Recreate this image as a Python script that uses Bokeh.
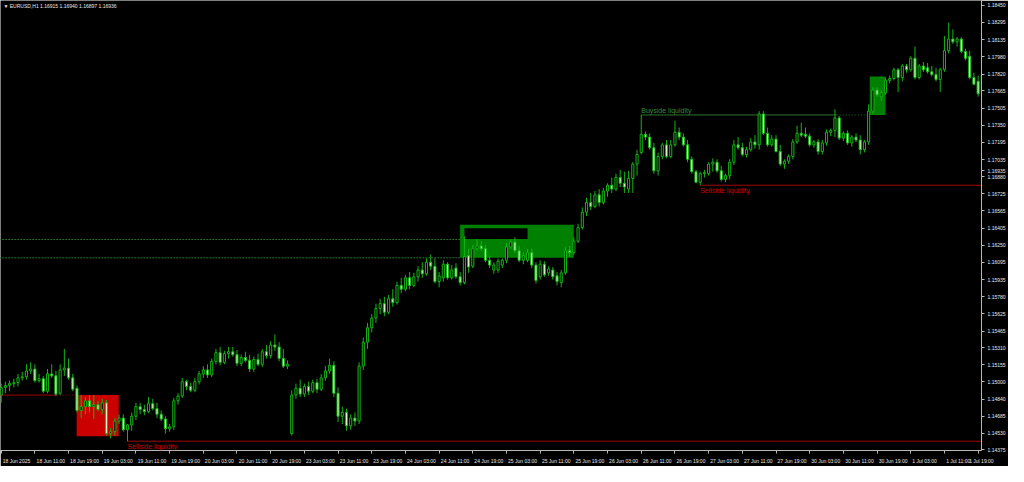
from bokeh.plotting import figure
from bokeh.models import Range1d, FixedTicker, PrintfTickFormatter, Label, ColumnDataSource
from bokeh.embed import file_html
from bokeh.resources import INLINE

# ---------------- data (EURUSD H1, one entry per bar) ----------------
opens = [1.14878, 1.14948, 1.14966, 1.14983, 1.14992, 1.15036, 1.15045, 1.15099, 1.15117, 1.15010,
         1.15028, 1.14913, 1.15072, 1.15054, 1.14895, 1.15108, 1.15125, 1.15036, 1.14940, 1.14737,
         1.14772, 1.14825, 1.14772, 1.14790, 1.14746, 1.14807, 1.14525, 1.14543, 1.14640, 1.14667,
         1.14560, 1.14604, 1.14684, 1.14772, 1.14746, 1.14728, 1.14799, 1.14755, 1.14702, 1.14658,
         1.14569, 1.14587, 1.14825, 1.14869, 1.15001, 1.14957, 1.14922, 1.15001, 1.15072, 1.15108,
         1.15063, 1.15187, 1.15266, 1.15178, 1.15257, 1.15275, 1.15248, 1.15169, 1.15222, 1.15196,
         1.15117, 1.15204, 1.15160, 1.15275, 1.15240, 1.15337, 1.15319, 1.15213, 1.15143, 1.14525,
         1.14878, 1.14940, 1.14887, 1.14957, 1.14913, 1.14992, 1.14931, 1.15036, 1.15099, 1.15151,
         1.14895, 1.14684, 1.14719, 1.14596, 1.14667, 1.14640, 1.15143, 1.15363, 1.15495, 1.15584,
         1.15672, 1.15716, 1.15637, 1.15760, 1.15725, 1.15883, 1.15848, 1.15953, 1.15883, 1.15962,
         1.16024, 1.15989, 1.16095, 1.16059, 1.15918, 1.15953, 1.16077, 1.15953, 1.16042, 1.15962,
         1.15909, 1.16157, 1.16059, 1.16219, 1.16245, 1.16219, 1.16113, 1.16024, 1.16024, 1.16069,
         1.16113, 1.16236, 1.16280, 1.16201, 1.16113, 1.16113, 1.16183, 1.16069, 1.15962, 1.16077,
         1.15998, 1.16024, 1.15971, 1.15909, 1.15998, 1.16201, 1.16183, 1.16289, 1.16413, 1.16554,
         1.16642, 1.16607, 1.16713, 1.16642, 1.16748, 1.16801, 1.16766, 1.16872, 1.16819, 1.16766,
         1.16863, 1.16995, 1.17101, 1.17268, 1.17242, 1.17145, 1.16933, 1.17065, 1.17171, 1.17065,
         1.17171, 1.17286, 1.17242, 1.17171, 1.17039, 1.16925, 1.16828, 1.16907, 1.16907, 1.16995,
         1.17012, 1.16933, 1.16854, 1.16889, 1.17012, 1.17171, 1.17145, 1.17083, 1.17127, 1.17198,
         1.17171, 1.17454, 1.17277, 1.17171, 1.17224, 1.17110, 1.16995, 1.17021, 1.17065, 1.17198,
         1.17277, 1.17268, 1.17251, 1.17171, 1.17198, 1.17110, 1.17189, 1.17286, 1.17304, 1.17418,
         1.17233, 1.17277, 1.17189, 1.17242, 1.17215, 1.17127, 1.17198, 1.17480, 1.17674, 1.17612,
         1.17647, 1.17762, 1.17779, 1.17859, 1.17788, 1.17894, 1.17859, 1.17965, 1.17788, 1.17894,
         1.17877, 1.17841, 1.17815, 1.17771, 1.17859, 1.18035, 1.18141, 1.18115, 1.18141, 1.18027,
         1.17983, 1.17788, 1.17753, 1.17656]

highs = [1.14983, 1.15001, 1.15010, 1.15028, 1.15072, 1.15090, 1.15160, 1.15178, 1.15160, 1.15072,
         1.15054, 1.15117, 1.15160, 1.15099, 1.15160, 1.15301, 1.15213, 1.15072, 1.14966, 1.14878,
         1.14860, 1.14878, 1.14878, 1.14825, 1.14843, 1.14834, 1.14578, 1.14667, 1.14702, 1.14702,
         1.14613, 1.14719, 1.14807, 1.14807, 1.14790, 1.14860, 1.14843, 1.14807, 1.14737, 1.14684,
         1.14613, 1.14852, 1.14895, 1.15036, 1.15019, 1.14992, 1.15036, 1.15099, 1.15143, 1.15160,
         1.15213, 1.15301, 1.15319, 1.15284, 1.15319, 1.15319, 1.15292, 1.15248, 1.15275, 1.15248,
         1.15231, 1.15257, 1.15301, 1.15337, 1.15372, 1.15433, 1.15363, 1.15301, 1.15196, 1.14922,
         1.14983, 1.15019, 1.14983, 1.15001, 1.15019, 1.15028, 1.15072, 1.15143, 1.15213, 1.15187,
         1.14948, 1.14772, 1.14755, 1.14702, 1.14719, 1.15178, 1.15407, 1.15540, 1.15619, 1.15716,
         1.15760, 1.15778, 1.15795, 1.15848, 1.15918, 1.15953, 1.15980, 1.16006, 1.15998, 1.16059,
         1.16095, 1.16130, 1.16166, 1.16130, 1.16006, 1.16113, 1.16095, 1.16069, 1.16086, 1.16006,
         1.16333, 1.16219, 1.16254, 1.16307, 1.16289, 1.16254, 1.16157, 1.16095, 1.16130, 1.16130,
         1.16271, 1.16307, 1.16324, 1.16245, 1.16183, 1.16219, 1.16219, 1.16095, 1.16113, 1.16104,
         1.16059, 1.16051, 1.16006, 1.16024, 1.16236, 1.16245, 1.16324, 1.16448, 1.16598, 1.16686,
         1.16730, 1.16748, 1.16766, 1.16775, 1.16819, 1.16872, 1.16907, 1.16942, 1.16925, 1.16934,
         1.17013, 1.17127, 1.17445, 1.17294, 1.17277, 1.17189, 1.17101, 1.17189, 1.17215, 1.17215,
         1.17392, 1.17330, 1.17277, 1.17215, 1.17065, 1.16942, 1.16925, 1.16942, 1.17012, 1.17048,
         1.17039, 1.16978, 1.16907, 1.17039, 1.17215, 1.17242, 1.17189, 1.17154, 1.17233, 1.17260,
         1.17480, 1.17480, 1.17330, 1.17260, 1.17260, 1.17171, 1.17039, 1.17083, 1.17224, 1.17348,
         1.17374, 1.17330, 1.17277, 1.17215, 1.17224, 1.17215, 1.17313, 1.17321, 1.17498, 1.17436,
         1.17295, 1.17304, 1.17260, 1.17277, 1.17260, 1.17215, 1.17542, 1.17700, 1.17700, 1.17674,
         1.17788, 1.17806, 1.17877, 1.17877, 1.17912, 1.17912, 1.17983, 1.18071, 1.17912, 1.17930,
         1.17921, 1.17894, 1.17877, 1.17877, 1.18168, 1.18291, 1.18229, 1.18159, 1.18159, 1.18053,
         1.18035, 1.17832, 1.17806, 1.17832]

lows = [1.14807, 1.14895, 1.14913, 1.14948, 1.14957, 1.15010, 1.15019, 1.15072, 1.14992, 1.14992,
        1.14895, 1.14895, 1.15036, 1.14869, 1.14878, 1.15054, 1.15019, 1.14913, 1.14719, 1.14667,
        1.14702, 1.14719, 1.14658, 1.14728, 1.14702, 1.14507, 1.14481, 1.14507, 1.14613, 1.14543,
        1.14455, 1.14551, 1.14649, 1.14702, 1.14693, 1.14711, 1.14737, 1.14667, 1.14640, 1.14525,
        1.14543, 1.14560, 1.14790, 1.14852, 1.14922, 1.14904, 1.14904, 1.14975, 1.15036, 1.15036,
        1.15045, 1.15160, 1.15151, 1.15160, 1.15213, 1.15231, 1.15143, 1.15143, 1.15178, 1.15090,
        1.15090, 1.15143, 1.15134, 1.15213, 1.15213, 1.15284, 1.15187, 1.15125, 1.15117, 1.14507,
        1.14843, 1.14860, 1.14860, 1.14878, 1.14895, 1.14895, 1.14913, 1.15010, 1.15072, 1.14860,
        1.14631, 1.14613, 1.14551, 1.14560, 1.14596, 1.14613, 1.15108, 1.15301, 1.15451, 1.15540,
        1.15619, 1.15601, 1.15619, 1.15689, 1.15707, 1.15813, 1.15830, 1.15848, 1.15865, 1.15918,
        1.15953, 1.15971, 1.16024, 1.15901, 1.15865, 1.15918, 1.15936, 1.15936, 1.15945, 1.15883,
        1.15892, 1.15998, 1.16042, 1.16201, 1.16201, 1.16095, 1.16042, 1.15989, 1.15998, 1.16042,
        1.16086, 1.16219, 1.16183, 1.16095, 1.16077, 1.16095, 1.16042, 1.15901, 1.15936, 1.15962,
        1.15971, 1.15936, 1.15883, 1.15865, 1.15980, 1.16148, 1.16166, 1.16271, 1.16395, 1.16519,
        1.16572, 1.16589, 1.16607, 1.16624, 1.16695, 1.16730, 1.16748, 1.16784, 1.16730, 1.16730,
        1.16730, 1.16889, 1.17083, 1.17215, 1.17127, 1.16907, 1.16889, 1.17039, 1.17048, 1.17048,
        1.17154, 1.17215, 1.17154, 1.17012, 1.16907, 1.16819, 1.16801, 1.16872, 1.16889, 1.16925,
        1.16916, 1.16836, 1.16828, 1.16854, 1.16986, 1.17127, 1.17065, 1.17056, 1.17110, 1.17136,
        1.17127, 1.17260, 1.17154, 1.17154, 1.17101, 1.16977, 1.16951, 1.16995, 1.17039, 1.17180,
        1.17242, 1.17233, 1.17154, 1.17145, 1.17083, 1.17083, 1.17163, 1.17251, 1.17242, 1.17215,
        1.17207, 1.17171, 1.17154, 1.17198, 1.17083, 1.17101, 1.17171, 1.17454, 1.17612, 1.17577,
        1.17630, 1.17735, 1.17762, 1.17656, 1.17753, 1.17832, 1.17841, 1.17771, 1.17771, 1.17841,
        1.17824, 1.17797, 1.17753, 1.17656, 1.17841, 1.18009, 1.18097, 1.18071, 1.18009, 1.17947,
        1.17771, 1.17718, 1.17612, 1.17639]

closes = [1.14948, 1.14966, 1.14983, 1.14992, 1.15036, 1.15045, 1.15099, 1.15117, 1.15010, 1.15028,
          1.14913, 1.15072, 1.15054, 1.14887, 1.15108, 1.15125, 1.15036, 1.14931, 1.14737, 1.14772,
          1.14825, 1.14772, 1.14790, 1.14746, 1.14807, 1.14525, 1.14543, 1.14640, 1.14667, 1.14560,
          1.14604, 1.14684, 1.14772, 1.14746, 1.14728, 1.14799, 1.14755, 1.14702, 1.14658, 1.14569,
          1.14587, 1.14825, 1.14869, 1.15001, 1.14957, 1.14922, 1.15001, 1.15072, 1.15108, 1.15063,
          1.15187, 1.15266, 1.15178, 1.15257, 1.15275, 1.15248, 1.15169, 1.15222, 1.15196, 1.15117,
          1.15204, 1.15160, 1.15275, 1.15240, 1.15337, 1.15319, 1.15213, 1.15143, 1.15160, 1.14878,
          1.14940, 1.14887, 1.14957, 1.14913, 1.14992, 1.14931, 1.15036, 1.15099, 1.15151, 1.14895,
          1.14684, 1.14719, 1.14596, 1.14667, 1.14640, 1.15143, 1.15363, 1.15495, 1.15584, 1.15672,
          1.15716, 1.15637, 1.15760, 1.15725, 1.15883, 1.15848, 1.15953, 1.15883, 1.15962, 1.16024,
          1.15989, 1.16095, 1.16059, 1.15918, 1.15971, 1.16077, 1.15953, 1.16024, 1.15962, 1.15909,
          1.16148, 1.16051, 1.16219, 1.16245, 1.16219, 1.16113, 1.16069, 1.16069, 1.16104, 1.16113,
          1.16236, 1.16280, 1.16201, 1.16113, 1.16157, 1.16183, 1.16069, 1.15927, 1.16077, 1.15980,
          1.16033, 1.15962, 1.15918, 1.15998, 1.16201, 1.16183, 1.16289, 1.16413, 1.16554, 1.16642,
          1.16607, 1.16713, 1.16642, 1.16748, 1.16801, 1.16766, 1.16872, 1.16819, 1.16784, 1.16863,
          1.16995, 1.17083, 1.17268, 1.17242, 1.17145, 1.16933, 1.17065, 1.17171, 1.17065, 1.17171,
          1.17286, 1.17242, 1.17171, 1.17039, 1.16925, 1.16828, 1.16907, 1.16916, 1.16995, 1.17012,
          1.16933, 1.16854, 1.16889, 1.17012, 1.17171, 1.17145, 1.17083, 1.17127, 1.17198, 1.17171,
          1.17454, 1.17277, 1.17171, 1.17224, 1.17110, 1.16995, 1.17021, 1.17065, 1.17198, 1.17277,
          1.17260, 1.17251, 1.17171, 1.17198, 1.17110, 1.17189, 1.17286, 1.17304, 1.17418, 1.17233,
          1.17277, 1.17189, 1.17242, 1.17215, 1.17127, 1.17198, 1.17480, 1.17674, 1.17630, 1.17647,
          1.17762, 1.17779, 1.17859, 1.17788, 1.17894, 1.17859, 1.17965, 1.17788, 1.17894, 1.17859,
          1.17841, 1.17815, 1.17771, 1.17859, 1.18035, 1.18141, 1.18115, 1.18141, 1.18027, 1.17965,
          1.17788, 1.17727, 1.17639, 1.17806]

time_tick_bars = [0, 8, 16, 24, 32, 40, 48, 56, 64, 72, 80, 88, 96, 104, 112, 120, 128, 136, 144,
                  152, 160, 168, 176, 184, 192, 200, 208, 216, 224, 232]
time_labels = ["18 Jun 2025", "18 Jun 11:00", "18 Jun 19:00", "19 Jun 03:00", "19 Jun 11:00",
               "19 Jun 19:00", "20 Jun 03:00", "20 Jun 11:00", "20 Jun 19:00", "23 Jun 03:00",
               "23 Jun 11:00", "23 Jun 19:00", "24 Jun 03:00", "24 Jun 11:00", "24 Jun 19:00",
               "25 Jun 03:00", "25 Jun 11:00", "25 Jun 19:00", "26 Jun 03:00", "26 Jun 11:00",
               "26 Jun 19:00", "27 Jun 03:00", "27 Jun 11:00", "27 Jun 19:00", "30 Jun 03:00",
               "30 Jun 11:00", "30 Jun 19:00", "1 Jul 03:00", "1 Jul 11:00", "1 Jul 19:00"]

price_ticks = [1.18450, 1.18295, 1.18135, 1.17980, 1.17820, 1.17665, 1.17505, 1.17350, 1.17195,
               1.17035, 1.16880, 1.16725, 1.16565, 1.16405, 1.16250, 1.16095, 1.15935, 1.15780,
               1.15625, 1.15465, 1.15310, 1.15155, 1.15000, 1.14840, 1.14685, 1.14530, 1.14375]

chart_title = "\u25bc EURUSD,H1  1.16915 1.16940 1.16897 1.16936"
current_bid = 1.16935

# zones: (first bar, last bar) and (low price, high price)
red_zone_bars, red_zone_prices = (17.92, 27.92), (1.14501, 1.14878)
green_zone_bars, green_zone_prices = (108.98, 135.98), (1.16136, 1.16439)
gap_bars, gap_prices = (110.0, 125.0), (1.16309, 1.16406)
top_zone_bars, top_zone_prices = (206.26, 209.97), (1.17445, 1.17797)

# horizontal levels
old_low_level, old_low_end, old_low_dot_from = 1.14878, 17.92, 13.2
zone_levels, zone_levels_end = [1.16304, 1.16136], 108.98
sellside_1_level, sellside_1_from = 1.14455, 30
buyside_level, buyside_from, buyside_swept, buyside_end = 1.17445, 152, 198.4, 206.26
sellside_2_level, sellside_2_from = 1.16801, 166
level_texts = ["Buyside liquidity", "Sellside liquidity", "Sellside liquidity"]

# ---------------- figure ----------------
X0, X1 = -0.16, 232.8
Y0, Y1 = 1.14370, 1.18494
FRAME_H = 450.0
FRAME_W = 977.0
PX = (Y1 - Y0) / FRAME_H          # price per pixel
BAR_PX = FRAME_W / (X1 - X0)      # pixels per bar

p = figure(width=1008, height=466, x_range=Range1d(X0, X1), y_range=Range1d(Y0, Y1),
           output_backend="svg", toolbar_location=None, y_axis_location="right",
           background_fill_color="black", border_fill_color="black",
           min_border_left=0, min_border_top=0, min_border_bottom=16, min_border_right=0)
p.outline_line_color = None
p.xgrid.visible = False
p.ygrid.visible = False

AX = "#b8b8b8"
TXT = "#e8e8e8"
UI_FONT = "Liberation Sans"
UI_SIZE = 5.0

ya = p.yaxis[0]
ya.ticker = FixedTicker(ticks=sorted(price_ticks + [current_bid]))
ya.formatter = PrintfTickFormatter(format="%.5f")
ya.major_label_text_font_size = "%gpx" % UI_SIZE
ya.major_label_text_font = UI_FONT
ya.major_label_text_color = TXT
ya.axis_line_color = AX
ya.major_tick_line_color = AX
ya.major_tick_out = 3
ya.major_tick_in = 0
ya.minor_tick_line_color = None
ya.major_label_standoff = 3

# approximate advance widths (em) of Liberation Sans, used to left-align time labels at ticks
EM = {"J": 0.5, "u": 0.556, "n": 0.556, "l": 0.222, " ": 0.278, ":": 0.278}


def text_px(s):
    return sum(EM.get(ch, 0.556) for ch in s) * UI_SIZE


# time scale: labels start at their tick (terminal style); label anchors sit half a label
# width right of each tick, and the ticks themselves are drawn as minor ticks
label_pos = []
for t, lab in zip(time_tick_bars, time_labels):
    pos = t + (text_px(lab) / 2.0 + 1.5) / BAR_PX
    label_pos.append(min(pos, X1 - 0.02))
xa = p.xaxis[0]
xa.ticker = FixedTicker(ticks=label_pos, minor_ticks=time_tick_bars)
xa.major_label_overrides = {pos: lab for pos, lab in zip(label_pos, time_labels)}
xa.major_label_text_font_size = "%gpx" % UI_SIZE
xa.major_label_text_font = UI_FONT
xa.major_label_text_color = TXT
xa.major_label_standoff = 4
xa.axis_line_color = AX
xa.major_tick_line_color = None
xa.major_tick_out = 0
xa.major_tick_in = 0
xa.minor_tick_line_color = AX
xa.minor_tick_out = 3
xa.minor_tick_in = 0

# zones
p.quad(left=[red_zone_bars[0]], right=[red_zone_bars[1]], bottom=[red_zone_prices[0]],
       top=[red_zone_prices[1]], fill_color="#cc0000", line_color=None)
p.quad(left=[green_zone_bars[0]], right=[green_zone_bars[1]], bottom=[green_zone_prices[0]],
       top=[green_zone_prices[1]], fill_color="#008000", line_color=None)
p.quad(left=[gap_bars[0]], right=[gap_bars[1]], bottom=[gap_prices[0]],
       top=[gap_prices[1]], fill_color="black", line_color=None)
p.quad(left=[top_zone_bars[0]], right=[top_zone_bars[1]], bottom=[top_zone_prices[0]],
       top=[top_zone_prices[1]], fill_color="#008000", line_color=None)

# levels
RED_LINE = "#a00000"
GREEN_LINE = "#2f702f"
p.segment(x0=[X0 - 1], x1=[old_low_dot_from], y0=[old_low_level], y1=[old_low_level],
          line_color=RED_LINE, line_width=1)
p.segment(x0=[old_low_dot_from], x1=[old_low_end], y0=[old_low_level], y1=[old_low_level],
          line_color=RED_LINE, line_width=1, line_dash="1 2")
p.segment(x0=[X0 - 1] * len(zone_levels), x1=[zone_levels_end] * len(zone_levels),
          y0=zone_levels, y1=zone_levels, line_color=GREEN_LINE, line_width=1, line_dash="2 1")
p.segment(x0=[sellside_1_from], x1=[X1 + 1], y0=[sellside_1_level], y1=[sellside_1_level],
          line_color=RED_LINE, line_width=1)
p.segment(x0=[sellside_2_from], x1=[X1 + 1], y0=[sellside_2_level], y1=[sellside_2_level],
          line_color=RED_LINE, line_width=1)
p.segment(x0=[buyside_from], x1=[buyside_swept], y0=[buyside_level], y1=[buyside_level],
          line_color=GREEN_LINE, line_width=1)
p.segment(x0=[buyside_swept], x1=[buyside_end], y0=[buyside_level], y1=[buyside_level],
          line_color=GREEN_LINE, line_width=1, line_dash="1 2")

# candles
WICK = "#14b414"
BEAR_FILL = "#d6f6c6"
bars = list(range(len(closes)))
wicks = ColumnDataSource(dict(x=bars, high=highs, low=lows))
p.segment(x0="x", x1="x", y0="high", y1="low", source=wicks, line_color=WICK, line_width=1)

bull_idx = [i for i in bars if closes[i] > opens[i]]
bear_idx = [i for i in bars if closes[i] <= opens[i]]
bull = ColumnDataSource(dict(x=bull_idx, top=[closes[i] for i in bull_idx],
                             bottom=[opens[i] for i in bull_idx]))
bear = ColumnDataSource(dict(x=bear_idx, top=[opens[i] for i in bear_idx],
                             bottom=[closes[i] for i in bear_idx]))
p.vbar(x="x", top="top", bottom="bottom", width=0.5, source=bull,
       fill_color="black", line_color=WICK, line_width=1)
p.vbar(x="x", top="top", bottom="bottom", width=0.5, source=bear,
       fill_color=BEAR_FILL, line_color=WICK, line_width=1)

# liquidity labels
p.add_layout(Label(x=buyside_from, y=buyside_level + 4.5 * PX, text=level_texts[0],
                   text_font=UI_FONT, text_font_size="7px", text_color="#3b8a3b",
                   text_align="left", text_baseline="middle"))
p.add_layout(Label(x=sellside_1_from, y=sellside_1_level - 5 * PX, text=level_texts[1],
                   text_font=UI_FONT, text_font_size="7px", text_color="#d00000",
                   text_align="left", text_baseline="middle"))
p.add_layout(Label(x=sellside_2_from, y=sellside_2_level - 5 * PX, text=level_texts[2],
                   text_font=UI_FONT, text_font_size="7px", text_color="#d00000",
                   text_align="left", text_baseline="middle"))

# chart title
p.add_layout(Label(x=X0 + 0.7, y=Y1 - 5.5 * PX, text=chart_title, text_font=UI_FONT,
                   text_font_size="5px", text_color=TXT, text_align="left",
                   text_baseline="middle"))

open("out.html", "w").write(file_html(p, INLINE))
